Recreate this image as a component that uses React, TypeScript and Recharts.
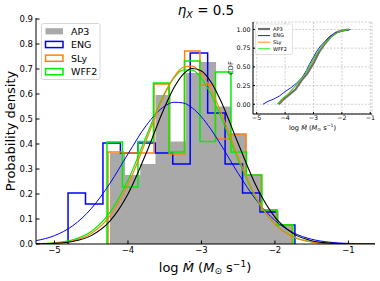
import React from 'react';
import { ComposedChart, Line, Area, XAxis, YAxis, CartesianGrid } from 'recharts';

const FONT = '"DejaVu Sans", "Liberation Sans", sans-serif';

// ---------- main panel: histograms (probability density) ----------
const AP3_RANGE = [-4.245, -1.769];
const AP3_HIST = [0.364, 0.276, 0.32, 0.596, 0.41, 0.684, 0.728, 0.55, 0.44, 0.276, 0.136, 0.076];
const ENG_RANGE = [-4.816, -1.728];
const ENG_HIST = [0.204, 0.16, 0.404, 0.364, 0.404, 0.364, 0.32, 0.764, 0.524, 0.32, 0.204, 0.128, 0.076];
const SLY_RANGE = [-4.272, -1.769];
const SLY_HIST = [0.368, 0.364, 0.364, 0.64, 0.36, 0.772, 0.636, 0.42, 0.44, 0.276, 0.136, 0.076];
const WFF2_RANGE = [-4.286, -1.755];
const WFF2_HIST = [0.408, 0.228, 0.41, 0.644, 0.368, 0.732, 0.41, 0.688, 0.368, 0.276, 0.136, 0.076];

// ---------- main panel: fitted density curves ----------
const FIT_X = [-5.25, -5, -4.75, -4.5, -4.25, -4, -3.75, -3.5, -3.375, -3.25, -3.125, -3, -2.875, -2.75, -2.5, -2.25, -2, -1.75, -1.5, -1.25, -1, -0.75, -0.64];
const ENG_FIT = [0.0135, 0.0335, 0.0734, 0.1416, 0.2406, 0.3603, 0.4749, 0.5516, 0.567, 0.5643, 0.5443, 0.5086, 0.4604, 0.4039, 0.2824, 0.174, 0.0944, 0.0451, 0.019, 0.007, 0.0023, 0.0007, 0.0004];
const AP3_FIT = [0.0005, 0.0026, 0.0103, 0.0335, 0.0902, 0.1999, 0.3649, 0.5484, 0.6251, 0.6789, 0.7023, 0.6922, 0.6499, 0.5812, 0.402, 0.229, 0.1074, 0.0415, 0.0132, 0.0035, 0.0007, 0.0001, 0];
const SLY_FIT = [0.0007, 0.0033, 0.0131, 0.042, 0.1103, 0.2369, 0.4166, 0.5998, 0.6675, 0.7067, 0.7117, 0.6817, 0.6211, 0.5383, 0.3479, 0.1841, 0.0798, 0.0283, 0.0082, 0.0019, 0.0004, 0.0001, 0];
const WFF2_FIT = [0.001, 0.0045, 0.0165, 0.0499, 0.1242, 0.255, 0.432, 0.6038, 0.6641, 0.6961, 0.6955, 0.6622, 0.6009, 0.5197, 0.3364, 0.1797, 0.0792, 0.0288, 0.0086, 0.0021, 0.0004, 0.0001, 0];

// ---------- inset: cumulative distributions ----------
const AP3_CDF_X = [-4.22, -4.05, -3.85, -3.63, -3.42, -3.22, -3.0, -2.8, -2.6, -2.4, -2.2, -2.0, -1.75];
const AP3_CDF_Y = [0, 0.07, 0.13, 0.2, 0.32, 0.41, 0.55, 0.7, 0.81, 0.9, 0.96, 0.985, 1];
const ENG_CDF_X = [-4.78, -4.6, -4.4, -4.2, -4.0, -3.8, -3.6, -3.4, -3.25, -3.15, -3.0, -2.9, -2.75, -2.6, -2.45, -2.25, -2.0, -1.7];
const ENG_CDF_Y = [0, 0.04, 0.07, 0.11, 0.17, 0.22, 0.28, 0.36, 0.45, 0.53, 0.63, 0.7, 0.78, 0.84, 0.9, 0.95, 0.98, 1];
const SLY_CDF_X = [-4.28, -4.1, -3.9, -3.7, -3.5, -3.3, -3.1, -2.9, -2.7, -2.5, -2.3, -2.1, -1.9, -1.75];
const SLY_CDF_Y = [0, 0.07, 0.14, 0.22, 0.3, 0.4, 0.53, 0.67, 0.77, 0.86, 0.93, 0.97, 0.99, 1];
const WFF2_CDF_X = [-4.28, -4.1, -3.9, -3.7, -3.5, -3.3, -3.1, -2.9, -2.7, -2.5, -2.3, -2.1, -1.9, -1.75];
const WFF2_CDF_Y = [0, 0.08, 0.13, 0.22, 0.31, 0.4, 0.54, 0.67, 0.78, 0.86, 0.92, 0.97, 0.99, 1];

const LABELS = ['AP3', 'ENG', 'SLy', 'WFF2'];
const GREY = '#a9a9a9';
const BLUE = '#0000ff';
const ORANGE = '#ff7f0e';
const GREEN = '#00ee00';
const CDF_GREY = '#707070';

const MAIN_X_TICKS = [-5, -4, -3, -2, -1];
const MAIN_Y_TICKS = [0, 0.1, 0.2, 0.3, 0.4, 0.5, 0.6, 0.7, 0.8, 0.9];
const INSET_X_TICKS = [-5, -4, -3, -2, -1];
const INSET_Y_TICKS = [0, 0.25, 0.5, 0.75, 1];

const MAIN_X_DOMAIN = [-5.252, -0.638];
const MAIN_Y_DOMAIN = [0, 0.904];
const INSET_X_DOMAIN = [-5.13, -0.94];
const INSET_Y_DOMAIN = [-0.13, 1.1];

const minus = (v: number) => (v < 0 ? '\u2212' + Math.abs(v) : String(v));

function steps(range: number[], heights: number[]) {
  const n = heights.length;
  const w = (range[1] - range[0]) / n;
  const pts = [{ x: range[0], y: 0 }];
  heights.forEach((h, i) => pts.push({ x: range[0] + i * w, y: h }));
  pts.push({ x: range[1], y: heights[n - 1] });
  pts.push({ x: range[1], y: 0 });
  return pts;
}
const zipXY = (xs: number[], ys: number[]) => xs.map((x, i) => ({ x, y: ys[i] }));

const tickStyle = (size: number) => ({ fill: '#000', fontSize: size, fontFamily: FONT });

function MainChart() {
  return (
    <ComposedChart width={380} height={281} margin={{ top: 18, right: 5, bottom: 0, left: 0 }}>
      <XAxis xAxisId="x" type="number" dataKey="x" domain={MAIN_X_DOMAIN} allowDataOverflow ticks={MAIN_X_TICKS}
        interval={0} tickFormatter={minus} height={37} tickSize={-3.5} tickMargin={6.5} stroke="#000"
        tick={tickStyle(8.5)} />
      <XAxis xAxisId="xt" orientation="top" type="number" dataKey="x" domain={MAIN_X_DOMAIN} allowDataOverflow
        ticks={MAIN_X_TICKS} interval={0} height={0} tickSize={-3.5} tick={false} stroke="#000" />
      <YAxis yAxisId="y" type="number" domain={MAIN_Y_DOMAIN} allowDataOverflow ticks={MAIN_Y_TICKS} interval={0}
        tickFormatter={(v: number) => v.toFixed(1)} width={36} tickSize={-3.5} tickMargin={6.5} stroke="#000"
        tick={tickStyle(8.5)} />
      <YAxis yAxisId="yr" orientation="right" type="number" domain={MAIN_Y_DOMAIN} allowDataOverflow
        ticks={MAIN_Y_TICKS} interval={0} width={0} tickSize={-3.5} tick={false} stroke="#000" />

      <Area xAxisId="x" yAxisId="y" data={steps(AP3_RANGE, AP3_HIST)} dataKey="y" type="stepAfter" stroke="none"
        fill={GREY} fillOpacity={1} isAnimationActive={false} dot={false} activeDot={false} />
      <Line xAxisId="x" yAxisId="y" data={steps(ENG_RANGE, ENG_HIST)} dataKey="y" type="stepAfter" stroke={BLUE}
        strokeWidth={1.5} isAnimationActive={false} dot={false} activeDot={false} />
      <Line xAxisId="x" yAxisId="y" data={steps(SLY_RANGE, SLY_HIST)} dataKey="y" type="stepAfter" stroke={ORANGE}
        strokeWidth={1.5} isAnimationActive={false} dot={false} activeDot={false} />
      <Line xAxisId="x" yAxisId="y" data={steps(WFF2_RANGE, WFF2_HIST)} dataKey="y" type="stepAfter" stroke={GREEN}
        strokeWidth={1.5} isAnimationActive={false} dot={false} activeDot={false} />

      <Line xAxisId="x" yAxisId="y" data={zipXY(FIT_X, ENG_FIT)} dataKey="y" type="monotone" stroke={BLUE}
        strokeWidth={1} isAnimationActive={false} dot={false} activeDot={false} />
      <Line xAxisId="x" yAxisId="y" data={zipXY(FIT_X, WFF2_FIT)} dataKey="y" type="monotone" stroke={GREEN}
        strokeWidth={1.2} isAnimationActive={false} dot={false} activeDot={false} />
      <Line xAxisId="x" yAxisId="y" data={zipXY(FIT_X, SLY_FIT)} dataKey="y" type="monotone" stroke={ORANGE}
        strokeWidth={1.2} isAnimationActive={false} dot={false} activeDot={false} />
      <Line xAxisId="x" yAxisId="y" data={zipXY(FIT_X, AP3_FIT)} dataKey="y" type="monotone" stroke="#000"
        strokeWidth={1.1} isAnimationActive={false} dot={false} activeDot={false} />
    </ComposedChart>
  );
}

function InsetChart() {
  return (
    <ComposedChart width={380} height={281} margin={{ top: 22, right: 8, bottom: 147, left: 233 }}>
      <CartesianGrid xAxisId="x" yAxisId="y" stroke="#b0b0b0" strokeDasharray="2 1.5" strokeWidth={0.6}
        fill="#ffffff" fillOpacity={1} />
      <XAxis xAxisId="x" type="number" dataKey="x" domain={INSET_X_DOMAIN} allowDataOverflow ticks={INSET_X_TICKS}
        interval={0} tickFormatter={minus} height={20} tickSize={-2} tickMargin={4} stroke="#000"
        tick={tickStyle(6.3)} />
      <XAxis xAxisId="xt" orientation="top" type="number" dataKey="x" domain={INSET_X_DOMAIN} allowDataOverflow
        ticks={INSET_X_TICKS} interval={0} height={0} tickSize={-2} tick={false} stroke="#000" />
      <YAxis yAxisId="y" type="number" domain={INSET_Y_DOMAIN} allowDataOverflow ticks={INSET_Y_TICKS} interval={0}
        tickFormatter={(v: number) => v.toFixed(2)} width={20} tickSize={-2} tickMargin={4.5} stroke="#000"
        tick={tickStyle(6.3)} />
      <YAxis yAxisId="yr" orientation="right" type="number" domain={INSET_Y_DOMAIN} allowDataOverflow
        ticks={INSET_Y_TICKS} interval={0} width={0} tickSize={-2} tick={false} stroke="#000" />

      <Line xAxisId="x" yAxisId="y" data={zipXY(AP3_CDF_X, AP3_CDF_Y)} dataKey="y" type="linear" stroke={CDF_GREY}
        strokeWidth={2.2} isAnimationActive={false} dot={false} activeDot={false} />
      <Line xAxisId="x" yAxisId="y" data={zipXY(ENG_CDF_X, ENG_CDF_Y)} dataKey="y" type="linear" stroke={BLUE}
        strokeWidth={0.9} isAnimationActive={false} dot={false} activeDot={false} />
      <Line xAxisId="x" yAxisId="y" data={zipXY(SLY_CDF_X, SLY_CDF_Y)} dataKey="y" type="linear" stroke={ORANGE}
        strokeWidth={0.9} isAnimationActive={false} dot={false} activeDot={false} />
      <Line xAxisId="x" yAxisId="y" data={zipXY(WFF2_CDF_X, WFF2_CDF_Y)} dataKey="y" type="linear" stroke={GREEN}
        strokeWidth={0.9} isAnimationActive={false} dot={false} activeDot={false} />
    </ComposedChart>
  );
}

function Overlay() {
  const mainPatch = [
    { fill: GREY, stroke: 'none' },
    { fill: 'none', stroke: BLUE },
    { fill: 'none', stroke: ORANGE },
    { fill: 'none', stroke: GREEN },
  ];
  const mainRows = [31.3, 44.5, 58.2, 71.7];
  const insetRows = [29, 35.6, 42.2, 48.8];
  const insetColors = [CDF_GREY, BLUE, ORANGE, GREEN];
  return (
    <svg width={380} height={281} style={{ position: 'absolute', left: 0, top: 0, pointerEvents: 'none' }}
      fontFamily={FONT}>
      {/* title */}
      <text x={206} y={15} textAnchor="middle" fontSize={13.5} fill="#000">
        <tspan fontStyle="italic">η</tspan>
        <tspan fontStyle="italic" fontSize={9.5} dy={3}>X</tspan>
        <tspan dy={-3}>{' = 0.5'}</tspan>
      </text>
      {/* main axis labels */}
      <text x={205} y={271.5} textAnchor="middle" fontSize={13} fill="#000">
        <tspan>{'log '}</tspan>
        <tspan fontStyle="italic">Ṁ</tspan>
        <tspan>{' ('}</tspan>
        <tspan fontStyle="italic">M</tspan>
        <tspan fontSize={9} dy={2.5}>⊙</tspan>
        <tspan dy={-2.5}>{' s'}</tspan>
        <tspan fontSize={9} dy={-5}>−1</tspan>
        <tspan dy={5}>)</tspan>
      </text>
      <text transform="rotate(-90)" x={-131} y={15} textAnchor="middle" fontSize={13} fill="#000">
        Probability density
      </text>
      {/* main legend */}
      <rect x={41.5} y={23.5} width={58.5} height={56} rx={2} fill="#fff" fillOpacity={0.8} stroke="#cccccc"
        strokeWidth={0.8} />
      {LABELS.map((l, i) => (
        <g key={l}>
          <rect x={45.5} y={mainRows[i] - 3.1} width={17.5} height={6.2} fill={mainPatch[i].fill}
            stroke={mainPatch[i].stroke} strokeWidth={1.5} />
          <text x={71} y={mainRows[i] + 3.5} fontSize={9.5} fill="#000">{l}</text>
        </g>
      ))}
      {/* inset labels */}
      <text x={312.5} y={129.5} textAnchor="middle" fontSize={6.6} fill="#000">
        <tspan>{'log '}</tspan>
        <tspan fontStyle="italic">Ṁ</tspan>
        <tspan>{' ('}</tspan>
        <tspan fontStyle="italic">M</tspan>
        <tspan fontSize={4.6} dy={1.3}>⊙</tspan>
        <tspan dy={-1.3}>{' s'}</tspan>
        <tspan fontSize={4.6} dy={-2.6}>−1</tspan>
        <tspan dy={2.6}>)</tspan>
      </text>
      <text transform="rotate(-90)" x={-68} y={233} textAnchor="middle" fontSize={6.6} fill="#000">CDF</text>
      {/* inset legend */}
      <rect x={255.5} y={24} width={37} height={30.5} rx={1.5} fill="#fff" fillOpacity={0.8} stroke="#cccccc"
        strokeWidth={0.6} />
      {LABELS.map((l, i) => (
        <g key={'i' + l}>
          <line x1={258} x2={270} y1={insetRows[i]} y2={insetRows[i]} stroke={insetColors[i]}
            strokeWidth={i === 0 ? 2.2 : 0.9} />
          <text x={273} y={insetRows[i] + 1.8} fontSize={5} fill="#000">{l}</text>
        </g>
      ))}
    </svg>
  );
}

export default function App() {
  return (
    <div style={{ position: 'absolute', left: 0, top: 0, width: 380, height: 281, background: '#fff' }}>
      <div style={{ position: 'absolute', left: 0, top: 0 }}>
        <MainChart />
      </div>
      <div style={{ position: 'absolute', left: 0, top: 0 }}>
        <InsetChart />
      </div>
      <Overlay />
    </div>
  );
}
